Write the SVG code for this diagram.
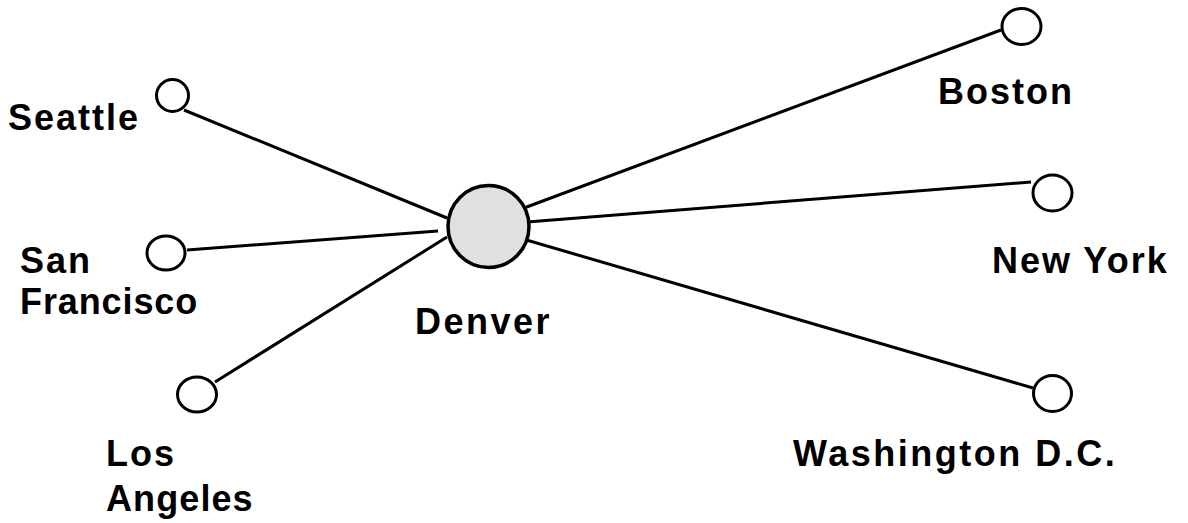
<svg xmlns="http://www.w3.org/2000/svg" width="1188" height="523" viewBox="0 0 1188 523">
<style>
.lbl{font-family:"Liberation Sans",Arial,sans-serif;font-weight:bold;font-size:36px;letter-spacing:2px;fill:#000}
.city{fill:#fff;stroke:#000;stroke-width:3}
.hub{fill:#e0e0e0;stroke:#000;stroke-width:3.5}
.edge{stroke:#000;stroke-width:3;fill:none}
</style>
<rect width="1188" height="523" fill="#fff"/>
<g id="connectors">
<line class="edge" x1="184" y1="110" x2="447" y2="218"/>
<line class="edge" x1="187" y1="250" x2="438" y2="231"/>
<line class="edge" x1="215" y1="382" x2="447" y2="237"/>
<line class="edge" x1="524" y1="208" x2="1001" y2="30"/>
<line class="edge" x1="527" y1="222" x2="1031" y2="182"/>
<line class="edge" x1="523" y1="239" x2="1033" y2="388"/>
</g>
<g id="denver">
<ellipse class="hub" cx="488.5" cy="226.5" rx="40.5" ry="41"/>
<text class="lbl" x="415" y="334" style="letter-spacing:2.5px">Denver</text>
</g>
<g id="seattle">
<ellipse class="city" cx="172.5" cy="95.5" rx="16" ry="16"/>
<text class="lbl" x="8" y="130">Seattle</text>
</g>
<g id="sanfrancisco">
<ellipse class="city" cx="166" cy="253" rx="19" ry="17"/>
<text class="lbl" x="20" y="273">San</text>
<text class="lbl" x="20" y="314" style="letter-spacing:0.9px">Francisco</text>
</g>
<g id="losangeles">
<ellipse class="city" cx="197" cy="394.5" rx="19.5" ry="17.5"/>
<text class="lbl" x="106" y="466">Los</text>
<text class="lbl" x="106" y="511" style="letter-spacing:1.1px">Angeles</text>
</g>
<g id="boston">
<ellipse class="city" cx="1021.5" cy="26.5" rx="19.5" ry="18"/>
<text class="lbl" x="938" y="104">Boston</text>
</g>
<g id="newyork">
<ellipse class="city" cx="1052.5" cy="193" rx="19.5" ry="18"/>
<text class="lbl" x="992" y="273">New York</text>
</g>
<g id="washington">
<ellipse class="city" cx="1052.5" cy="393.5" rx="19" ry="18"/>
<text class="lbl" x="793" y="466" style="letter-spacing:2.5px">Washington D.C.</text>
</g>
</svg>
